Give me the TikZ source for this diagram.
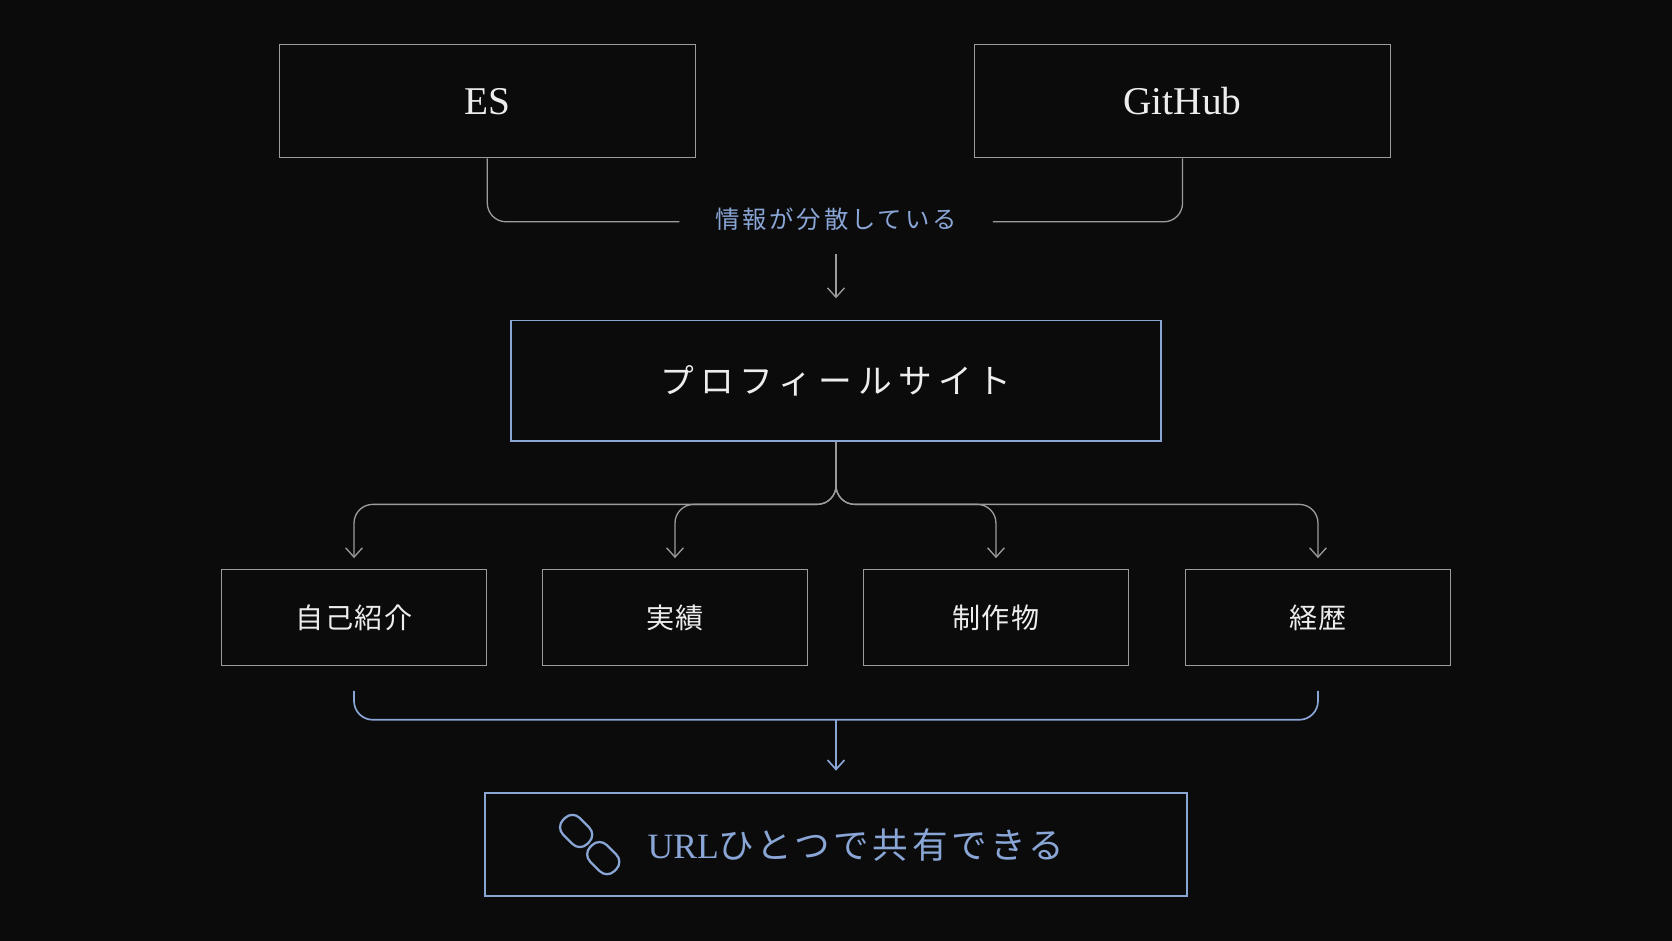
\documentclass[tikz,border=0pt]{standalone}
\usepackage{fontspec}
\setmainfont{Liberation Serif}
\newfontfamily\jp{Noto Sans CJK JP}
\newfontfamily\jpsp[LetterSpace=18]{Noto Sans CJK JP}
\usetikzlibrary{arrows.meta}
\definecolor{bg}{HTML}{0B0B0C}
\definecolor{gl}{HTML}{9C9C9C}
\definecolor{bl}{HTML}{8AA6D6}
\definecolor{tx}{HTML}{EDEDED}
\begin{document}
\begin{tikzpicture}[x=0.02cm,y=-0.02cm,
  box/.style={draw=gl,line width=0.7pt,fill=bg,text=tx,inner sep=0},
  bbox/.style={draw=bl,line width=0.9pt,fill=bg,inner sep=0},
  gline/.style={draw=gl,line width=0.7pt,rounded corners=10pt},
  bline/.style={draw=bl,line width=0.9pt,rounded corners=10pt},
  arr/.style={-{Straight Barb[length=5pt,width=9pt]}}]
\fill[bg] (0,0) rectangle (1568,882);
\useasboundingbox (0,0) rectangle (1568,882);
\node[box,minimum width=390*0.02cm,minimum height=106*0.02cm,font=\fontsize{21}{24}\selectfont] (es) at (457,95) {ES};
\node[box,minimum width=390*0.02cm,minimum height=106*0.02cm,font=\fontsize{21}{24}\selectfont] (gh) at (1109,95) {GitHub};
\node[text=bl,font=\jp\addfontfeature{LetterSpace=12}\fontsize{13}{16}\selectfont,inner sep=0] (lab) at (784,206) {情報が分散している};
\coordinate (l1) at (637,208); \coordinate (r1) at (931,208);
\draw[gline] (es.south) |- (l1);
\draw[gline] (gh.south) |- (r1);
\coordinate (a0) at (784,238);
\node[bbox,minimum width=610*0.02cm,minimum height=113*0.02cm,text=tx,font=\jpsp\fontsize{18}{22}\selectfont] (pf) at (784,357) {プロフィールサイト};
\draw[gline,arr] (a0) -- ([yshift=0.4cm]pf.north);
\foreach \n/\x/\t in {s1/332/自己紹介,s2/633/実績,s3/934/制作物,s4/1236/経歴}{
  \node[box,minimum width=248*0.02cm,minimum height=90*0.02cm,font=\jp\addfontfeature{LetterSpace=6}\fontsize{15}{18}\selectfont] (\n) at (\x,579) {\t};
  \draw[gline,arr] (pf.south) -- (784,473) -| ([yshift=0.2cm]\n.north);
}
\coordinate (b1) at (332,648); \coordinate (b2) at (1236,648); \coordinate (bm) at (784,675);
\draw[bline] (b1) |- (b2 |- bm) -- (b2);
\node[bbox,minimum width=658*0.02cm,minimum height=97*0.02cm] (url) at (784,792) {};
\draw[bline,arr,rounded corners=0] (bm) -- ([yshift=0.4cm]url.north);
\node[text=bl,inner sep=0,anchor=west,font=\fontsize{19}{22}\selectfont] (ut) at (607,792) {URL{\jp\addfontfeature{LetterSpace=10}ひとつで共有できる}};
\node[inner sep=0,minimum size=1pt] (ic) at (553,792) {};
\begin{scope}[shift={(ic)},rotate=-45]
\draw[bl,line width=1.2pt,rounded corners=5.5pt] (-34,-11) rectangle (-2,11);
\draw[bl,line width=1.2pt,rounded corners=5.5pt] (2,-11) rectangle (34,11);
\end{scope}
\end{tikzpicture}
\end{document}
